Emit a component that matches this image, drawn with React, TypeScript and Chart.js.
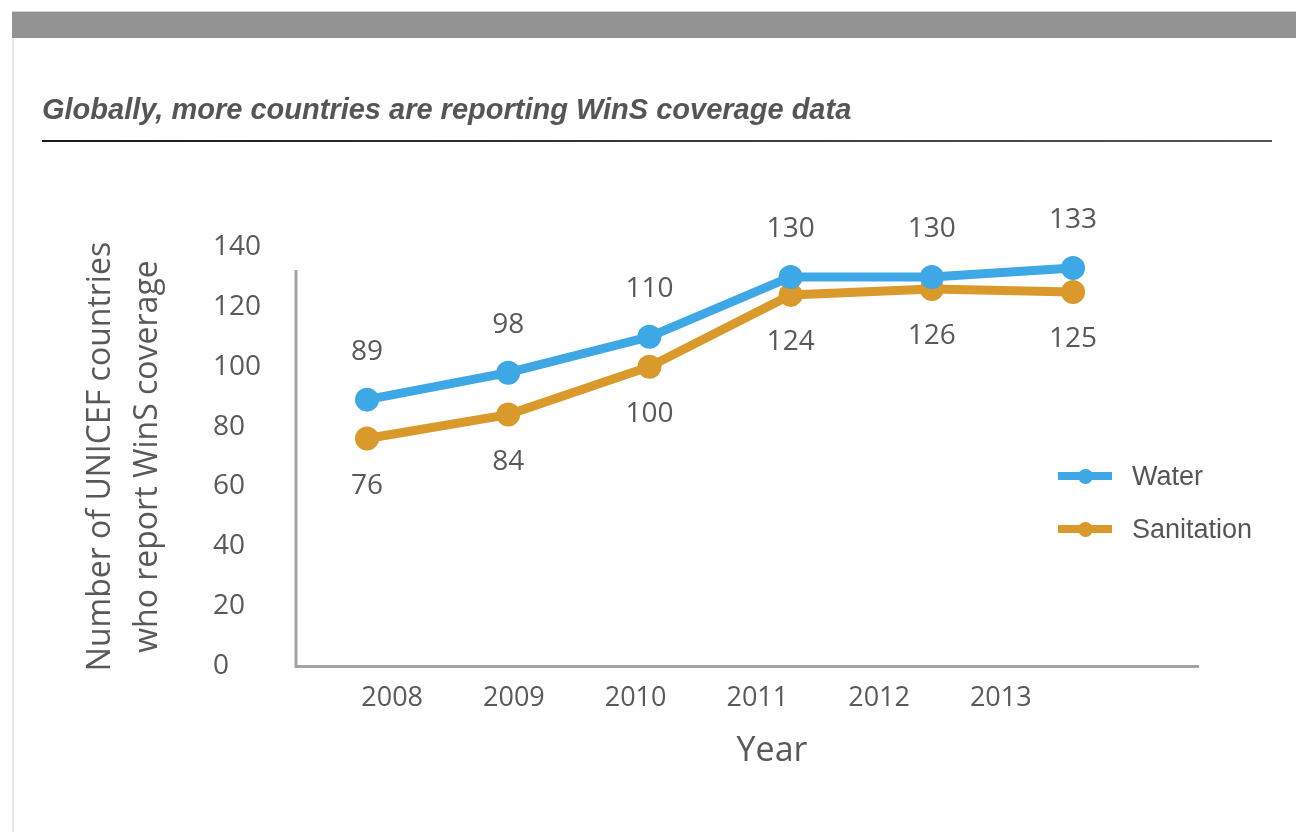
import React, { useEffect, useRef } from "react";
import { Chart, registerables } from "chart.js";

Chart.register(...registerables);

// ---------- data ----------
const years = [2008, 2009, 2010, 2011, 2012, 2013];
const waterValues = [89, 98, 110, 130, 130, 133];
const sanitationValues = [76, 84, 100, 124, 126, 125];
const yTickValues = [0, 20, 40, 60, 80, 100, 120, 140];
const seriesNames = ["Water", "Sanitation"];
const heading = "Globally, more countries are reporting WinS coverage data";
const yAxisTitle = ["Number of UNICEF countries", "who report WinS coverage"];
const xAxisTitle = "Year";

// ---------- styles ----------
const WATER = "#3ea7e5";
const SAN = "#d99a2b";
const TEXT = "#595959";
const AXIS = "#a3a3a3";
const SANS = "'Open Sans', sans-serif";
const HELV = "'Liberation Sans', Arial, sans-serif";

const W = 1296;
const H = 832;
const PLOT = { left: 296, right: 1198, top: 247, bottom: 666 };
const Y_LABEL_LEFT = 213;
const Y_LINE_TOP_VALUE = 132.3;
const LABEL_OFFSETS = [-48, 47];
const X_TITLE_SHIFT = 25;
const X_TITLE_Y = 751;

const axisLinePlugin = {
  id: "axisLine",
  beforeDatasetsDraw(chart: any) {
    const { ctx, chartArea } = chart;
    const ys = chart.scales.y;
    ctx.save();
    ctx.strokeStyle = AXIS;
    ctx.lineWidth = 3;
    ctx.beginPath();
    ctx.moveTo(chartArea.left, ys.getPixelForValue(Y_LINE_TOP_VALUE));
    ctx.lineTo(chartArea.left, chartArea.bottom + 1.5);
    ctx.stroke();
    ctx.restore();
  },
};

const valueLabelPlugin = {
  id: "valueLabels",
  afterDatasetsDraw(chart: any) {
    const { ctx, chartArea } = chart;
    ctx.save();
    ctx.font = `28px ${SANS}`;
    ctx.fillStyle = TEXT;
    ctx.textAlign = "center";
    ctx.textBaseline = "middle";
    chart.data.datasets.forEach((ds: any, i: number) => {
      const meta = chart.getDatasetMeta(i);
      meta.data.forEach((pt: any, j: number) => {
        const v = ds.data[j];
        ctx.fillText(String(v.y), pt.x, pt.y + LABEL_OFFSETS[i]);
      });
    });
    // x axis title, slightly right of centre as in the source
    ctx.font = `34px ${SANS}`;
    ctx.fillText(
      xAxisTitle,
      (chartArea.left + chartArea.right) / 2 + X_TITLE_SHIFT,
      X_TITLE_Y
    );
    ctx.restore();
  },
};

function ChartCanvas() {
  const ref = useRef<HTMLCanvasElement | null>(null);

  useEffect(() => {
    if (!ref.current) return;
    const colors = [WATER, SAN];
    const values = [waterValues, sanitationValues];
    const chart = new Chart(ref.current, {
      type: "line",
      data: {
        datasets: seriesNames.map((name, i) => ({
          label: name,
          data: years.map((yr, j) => ({ x: yr, y: values[i][j] })),
          borderColor: colors[i],
          backgroundColor: colors[i],
          borderWidth: 9,
          pointRadius: 12,
          pointBorderWidth: 0,
          pointBackgroundColor: colors[i],
          tension: 0,
          clip: false as any,
          xAxisID: "x",
          yAxisID: "y",
        })),
      },
      options: {
        animation: false,
        responsive: false,
        events: [],
        layout: {
          padding: { top: PLOT.top, right: W - PLOT.right, bottom: 0, left: 0 },
        },
        plugins: {
          legend: { display: false },
          tooltip: { enabled: false },
        },
        scales: {
          x: {
            type: "linear",
            axis: "x",
            display: false,
            min: 2007.497,
            max: 2013.885,
          },
          xl: {
            type: "linear",
            axis: "x",
            position: "bottom",
            min: 2007.21,
            max: 2014.62,
            afterBuildTicks: (s: any) => {
              s.ticks = years.map((v) => ({ value: v }));
            },
            afterFit: (s: any) => {
              s.height = H - PLOT.bottom;
            },
            grid: { display: false, drawTicks: false },
            border: { display: true, color: AXIS, width: 3 },
            ticks: {
              autoSkip: false,
              maxRotation: 0,
              padding: 16,
              color: TEXT,
              font: { family: SANS, size: 27 },
              callback: (v: any) => String(v),
            },
          },
          y: {
            type: "linear",
            axis: "y",
            position: "left",
            weight: 0,
            min: 0,
            max: 140,
            afterBuildTicks: (s: any) => {
              s.ticks = yTickValues.map((v) => ({ value: v }));
            },
            afterFit: (s: any) => {
              s.width = PLOT.left - Y_LABEL_LEFT;
            },
            grid: { display: false, drawTicks: false },
            border: { display: false },
            ticks: {
              crossAlign: "far",
              color: TEXT,
              font: { family: SANS, size: 28 },
              callback: (v: any) => String(v),
            },
          },
          yTitleAxis: {
            type: "linear",
            axis: "y",
            position: "left",
            weight: 10,
            min: 0,
            max: 1,
            afterFit: (s: any) => {
              s.width = Y_LABEL_LEFT;
            },
            grid: { display: false, drawTicks: false },
            border: { display: false },
            ticks: { display: false },
            title: {
              display: true,
              text: yAxisTitle,
              color: TEXT,
              font: { family: SANS, size: 32, lineHeight: 1.47 },
              padding: { top: 77, bottom: 0 },
            },
          },
        } as any,
      },
      plugins: [axisLinePlugin, valueLabelPlugin],
    });
    return () => chart.destroy();
  }, []);

  return (
    <canvas
      ref={ref}
      width={W}
      height={H}
      style={{ position: "absolute", left: 0, top: 0, width: W, height: H }}
    />
  );
}

export default function App() {
  const colors = [WATER, SAN];
  return (
    <div
      style={{
        position: "absolute",
        left: 0,
        top: 0,
        width: W,
        height: H,
        background: "#ffffff",
        overflow: "hidden",
      }}
    >
      <ChartCanvas />
      <div
        style={{
          position: "absolute",
          left: 12,
          top: 11,
          width: W - 12,
          height: 27,
          background: "#939393",
          borderTop: "1px solid #d6d6d6",
          boxSizing: "border-box",
        }}
      />
      <div
        style={{
          position: "absolute",
          left: 12,
          top: 38,
          width: 2,
          height: H - 38,
          background: "#e6e6e6",
        }}
      />
      <div
        style={{
          position: "absolute",
          left: 42,
          top: 95,
          font: `italic bold 29px/29px ${HELV}`,
          color: "#555555",
          whiteSpace: "nowrap",
        }}
      >
        {heading}
      </div>
      <div
        style={{
          position: "absolute",
          left: 42,
          top: 140,
          width: 1230,
          height: 2,
          background: "linear-gradient(to right, #1a1a1a, #555555)",
        }}
      />
      <div style={{ position: "absolute", left: 1058, top: 449.5 }}>
        {seriesNames.map((name, i) => (
          <div
            key={name}
            style={{ display: "flex", alignItems: "center", height: 53 }}
          >
            <div
              style={{
                position: "relative",
                width: 54,
                height: 8,
                background: colors[i],
              }}
            >
              <div
                style={{
                  position: "absolute",
                  left: 19.5,
                  top: -3.5,
                  width: 15,
                  height: 15,
                  borderRadius: "50%",
                  background: colors[i],
                }}
              />
            </div>
            <span
              style={{
                marginLeft: 20,
                font: `27px ${HELV}`,
                color: "#555555",
                whiteSpace: "nowrap",
              }}
            >
              {name}
            </span>
          </div>
        ))}
      </div>
    </div>
  );
}
